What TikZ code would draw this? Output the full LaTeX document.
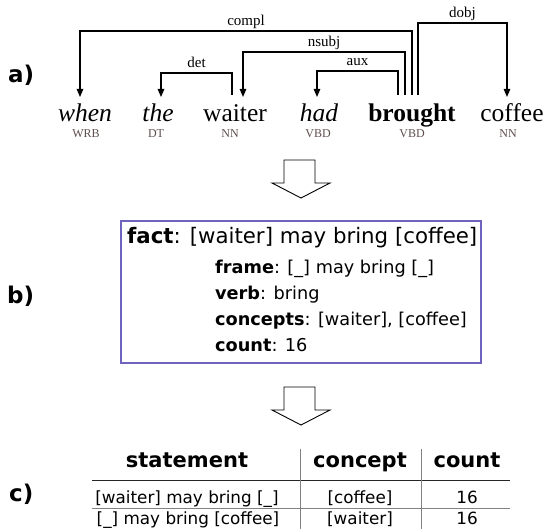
\documentclass[tikz,border=0pt]{standalone}
\usepackage{fontspec}
\setmainfont{DejaVu Sans}
\newfontfamily\tms{Liberation Serif}
\usetikzlibrary{arrows.meta}
\definecolor{boxcol}{RGB}{110,100,190}
\definecolor{tagcol}{RGB}{95,78,78}
\definecolor{rulegrey}{RGB}{130,130,130}
\tikzset{
  word/.style={inner sep=0pt, anchor=base, font=\tms\fontsize{25.5}{30}\selectfont},
  tag/.style={inner sep=0pt, anchor=base, text=tagcol, font=\tms\fontsize{12}{14}\selectfont},
  dep/.style={line width=1.2pt, -{Triangle[length=8pt,width=6.5pt]}},
  lbl/.style={inner sep=0pt, anchor=base, yshift=5.5pt, font=\tms\fontsize{15}{18}\selectfont},
  partlbl/.style={inner sep=0pt, anchor=base west, font=\bfseries\fontsize{23}{27}\selectfont},
  factbox/.style={draw=boxcol, line width=1.1pt, inner sep=0pt},
  bigline/.style={inner sep=0pt, anchor=base west, font=\fontsize{21.3}{25}\selectfont},
  subline/.style={inner sep=0pt, anchor=base west, font=\fontsize{17.7}{21}\selectfont},
  thead/.style={inner sep=0pt, anchor=base, font=\bfseries\fontsize{21}{25}\selectfont},
  tcell/.style={inner sep=0pt, anchor=base, font=\fontsize{16.8}{20}\selectfont},
  blockarrow/.style={draw=black, line width=0.9pt, fill=white, line join=miter},
}
\begin{document}
\begin{tikzpicture}[x=1pt,y=-1pt]
\useasboundingbox (0,0) rectangle (545,529);
% part labels
\node[partlbl] (la) at (8,83) {a)};
\node[partlbl] (lb) at (7,303) {b)};
\node[partlbl] (lc) at (9,501) {c)};
% words
\node[word] (when) at (85,122) {\textit{when}};
\node[word] (the) at (158,122) {\textit{the}};
\node[word] (waiter) at (235,122) {waiter};
\node[word] (had) at (319,122) {\textit{had}};
\node[word] (brought) at (412,122) {\textbf{brought}};
\node[word] (coffee) at (512,122) {coffee};
% tags
\node[tag] (t1) at (86,138) {WRB};
\node[tag] (t2) at (156,138) {DT};
\node[tag] (t3) at (230,138) {NN};
\node[tag] (t4) at (318,138) {VBD};
\node[tag] (t5) at (412,138) {VBD};
\node[tag] (t6) at (508,138) {NN};
% dependencies
\draw[dep] ([xshift=0pt,yshift=27pt]brought.base) -- ++(0,-64)
  -| node[pos=.25,lbl]{compl} ([xshift=-5pt,yshift=25pt]when.base);
\draw[dep] ([xshift=-7pt,yshift=27pt]brought.base) -- ++(0,-43)
  -| node[pos=.25,lbl]{nsubj} ([xshift=8pt,yshift=25pt]waiter.base);
\draw[dep] ([xshift=-14pt,yshift=27pt]brought.base) -- ++(0,-24)
  -| node[pos=.25,lbl]{aux} ([xshift=-2pt,yshift=25pt]had.base);
\draw[dep] ([xshift=-3pt,yshift=27pt]waiter.base) -- ++(0,-22)
  -| node[pos=.25,lbl]{det} ([xshift=3pt,yshift=25pt]the.base);
\draw[dep] ([xshift=6pt,yshift=27pt]brought.base) -- ++(0,-72)
  -| node[pos=.25,lbl]{dobj} ([xshift=-5pt,yshift=25pt]coffee.base);
% block arrow 1
\draw[blockarrow] (284,160) -- (315,160) -- (315,183) -- (330,183) -- (301,198) -- (272,183) -- (284,183) -- cycle;
% fact box
\node[factbox, minimum width=360pt, minimum height=142pt] (box) at (301,292) {};
\node[bigline] (fact) at (127,243) {\textbf{fact}: [waiter] may bring [coffee]};
\node[subline] (frame) at (215,273) {\textbf{frame}: [\_] may bring [\_]};
\node[subline] (verb) at (215,299) {\textbf{verb}: bring};
\node[subline] (concepts) at (215,325) {\textbf{concepts}: [waiter], [coffee]};
\node[subline] (count) at (215,351) {\textbf{count}: 16};
% block arrow 2
\draw[blockarrow] (284,387) -- (315,387) -- (315,410) -- (330,410) -- (301,425) -- (272,410) -- (284,410) -- cycle;
% table
\node[thead] (h1) at (187,467) {statement};
\node[thead] (h2) at (360,467) {concept};
\node[thead] (h3) at (467,467) {count};
\node[tcell] (r1a) at (187,503) {[waiter] may bring [\_]};
\node[tcell] (r1b) at (360,503) {[coffee]};
\node[tcell] (r1c) at (467,503) {16};
\node[tcell] (r2a) at (188,524) {[\_] may bring [coffee]};
\node[tcell] (r2b) at (360,524) {[waiter]};
\node[tcell] (r2c) at (467,524) {16};
\draw[line width=1pt, black!85] (92,480) -- (510,480);
\draw[line width=1pt, rulegrey] (92,508) -- (510,508);
\draw[line width=1pt, rulegrey] (300,449) -- (300,529);
\draw[line width=1pt, rulegrey] (421,449) -- (421,529);
\end{tikzpicture}
\end{document}
